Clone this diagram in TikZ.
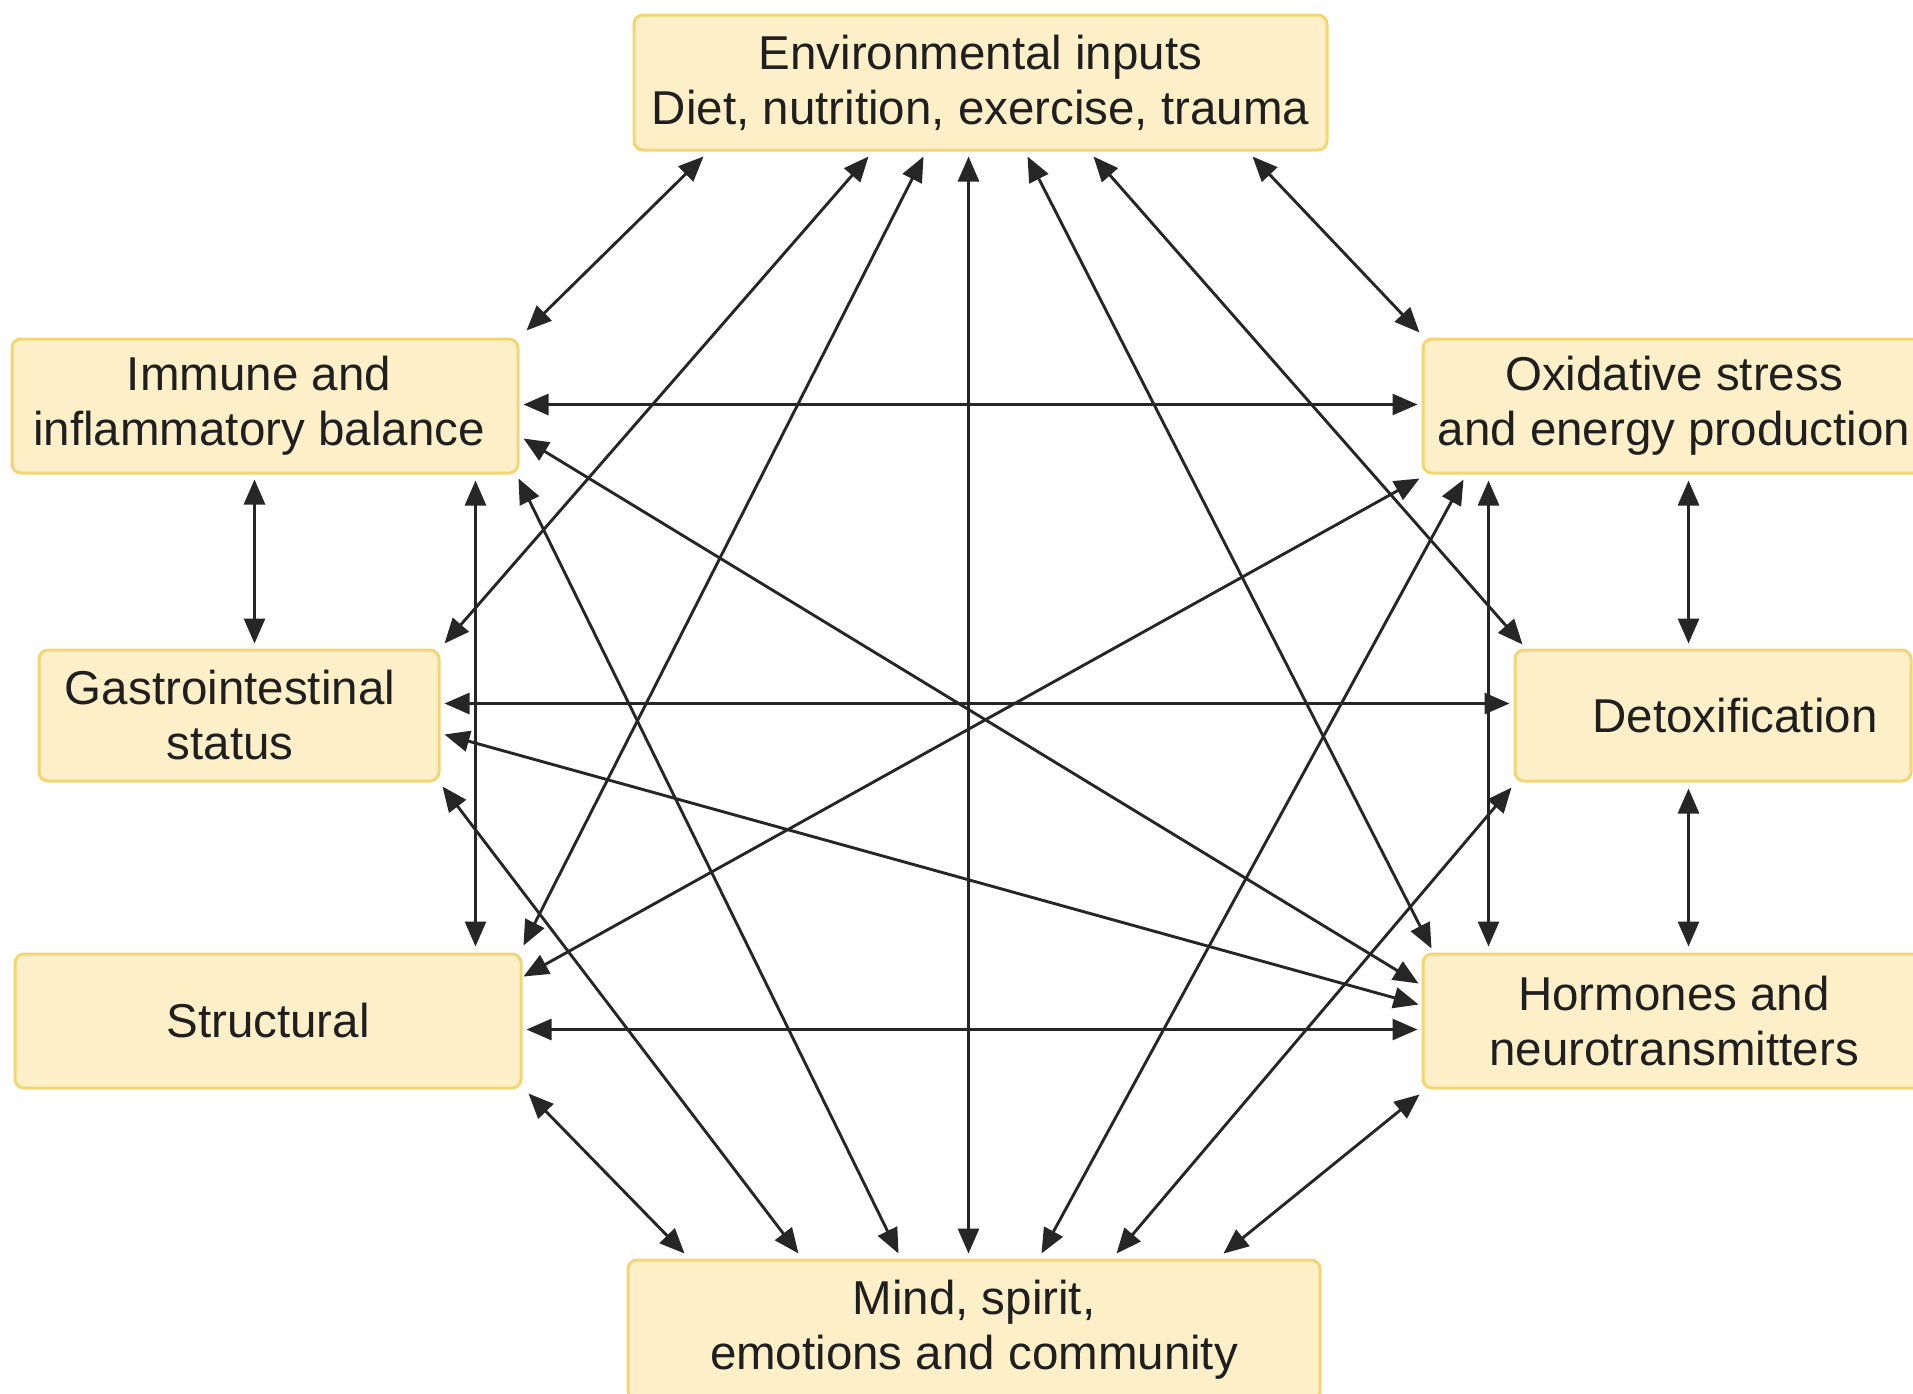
\documentclass[tikz,border=0pt]{standalone}
\usepackage{fontspec}
\setmainfont{Liberation Sans}
\usetikzlibrary{arrows.meta,calc}
\definecolor{boxfill}{HTML}{FDF0C9}
\definecolor{boxline}{HTML}{F3D574}
\definecolor{txt}{HTML}{1F1F1F}
\definecolor{arr}{HTML}{262626}
\tikzset{
  box/.style={draw=boxline, fill=boxfill, line width=3pt, rounded corners=9pt,
    inner sep=0pt, align=center, text=txt,
    font=\fontsize{47.5}{55}\selectfont},
  link/.style={draw=arr, line width=2.9pt,
    {Triangle[length=25pt,width=21pt]}-{Triangle[length=25pt,width=21pt]}}
}
\begin{document}
\begin{tikzpicture}[x=1pt,y=-1pt]
\useasboundingbox (0,0) rectangle (1913,1393);
\clip (0,0) rectangle (1913,1393);
\fill[white] (0,0) rectangle (1913,1393);

\node[box, minimum width=693pt, minimum height=135pt] (env) at (980.5,82.5)
  {Environmental inputs\\Diet, nutrition, exercise, trauma};
\node[box, minimum width=506pt, minimum height=134pt] (imm) at (265,406)
  {Immune and\hspace*{12pt}\\inflammatory balance\hspace*{12pt}};
\node[box, minimum width=502pt, minimum height=134pt] (oxi) at (1674,406)
  {Oxidative stress\\and energy production};
\node[box, minimum width=400pt, minimum height=131pt] (gi) at (239,715.5)
  {Gastrointestinal\hspace*{18pt}\\status\hspace*{18pt}};
\node[box, minimum width=396pt, minimum height=131pt] (det) at (1713,715.5)
  {\hspace*{44pt}Detoxification};
\node[box, minimum width=506pt, minimum height=134pt] (str) at (268,1021)
  {Structural};
\node[box, minimum width=502pt, minimum height=134pt] (hor) at (1674,1021)
  {Hormones and\\neurotransmitters};
\node[box, minimum width=692pt, minimum height=140pt] (mind) at (974,1330)
  {Mind, spirit,\\emotions and community};

% Environmental inputs
\draw[link] ($(env.south west)+(71,5)$) -- ($(imm.north east)+(7,-7)$);
\draw[link] ($(env.south west)+(236,5)$) -- ($(gi.north east)+(4,-5)$);
\draw[link] ($(env.south west)+(291,5)$) -- ($(str.north east)+(1,-7)$);
\draw[link] ($(env.south west)+(336,5)$) -- ($(mind.north west)+(342,-5)$);
\draw[link] ($(env.south west)+(395,5)$) -- ($(hor.north west)+(10,-4)$);
\draw[link] ($(env.south west)+(461,5)$) -- ($(det.north west)+(9,-4)$);
\draw[link] ($(env.south west)+(620,5)$) -- ($(oxi.north west)+(-2,-5)$);

% Immune and inflammatory balance
\draw[link] ($(imm.north east)+(4,67)$) -- ($(oxi.north west)+(-4,67)$);
\draw[link] ($(imm.north east)+(4,101)$) -- ($(hor.north west)+(-3,31)$);
\draw[link] ($(imm.south west)+(244,5)$) -- ($(gi.north west)+(217,-5)$);
\draw[link] ($(imm.south west)+(465,6)$) -- ($(str.north west)+(462,-6)$);
\draw[link] ($(imm.south east)+(-1,4)$) -- ($(mind.north west)+(272,-5)$);

% Gastrointestinal status
\draw[link] ($(gi.north east)+(4,55)$) -- ($(det.north west)+(-4,55)$);
\draw[link] ($(gi.north east)+(4,86)$) -- ($(hor.north west)+(-3,52)$);
\draw[link] ($(gi.south east)+(2,4)$) -- ($(mind.north west)+(172,-5)$);

% Structural
\draw[link] ($(str.north east)+(4,77)$) -- ($(hor.north west)+(-4,77)$);
\draw[link] ($(str.south east)+(6,4)$) -- ($(mind.north west)+(58,-5)$);
\draw[link] ($(str.north east)+(1,24)$) -- ($(oxi.south west)+(-2,4)$);

% Oxidative stress
\draw[link] ($(oxi.south west)+(67,6)$) -- ($(hor.north west)+(67,-6)$);
\draw[link] ($(oxi.south west)+(267,6)$) -- ($(det.north west)+(175,-5)$);
\draw[link] ($(oxi.south west)+(42,5)$) -- ($(mind.north west)+(415,-5)$);

% Detoxification
\draw[link] ($(det.south west)+(175,6)$) -- ($(hor.north west)+(267,-6)$);
\draw[link] ($(det.south west)+(-2,5)$) -- ($(mind.north west)+(490,-5)$);

% Hormones
\draw[link] ($(hor.south west)+(-2,5)$) -- ($(mind.north west)+(597,-5)$);
\end{tikzpicture}
\end{document}
